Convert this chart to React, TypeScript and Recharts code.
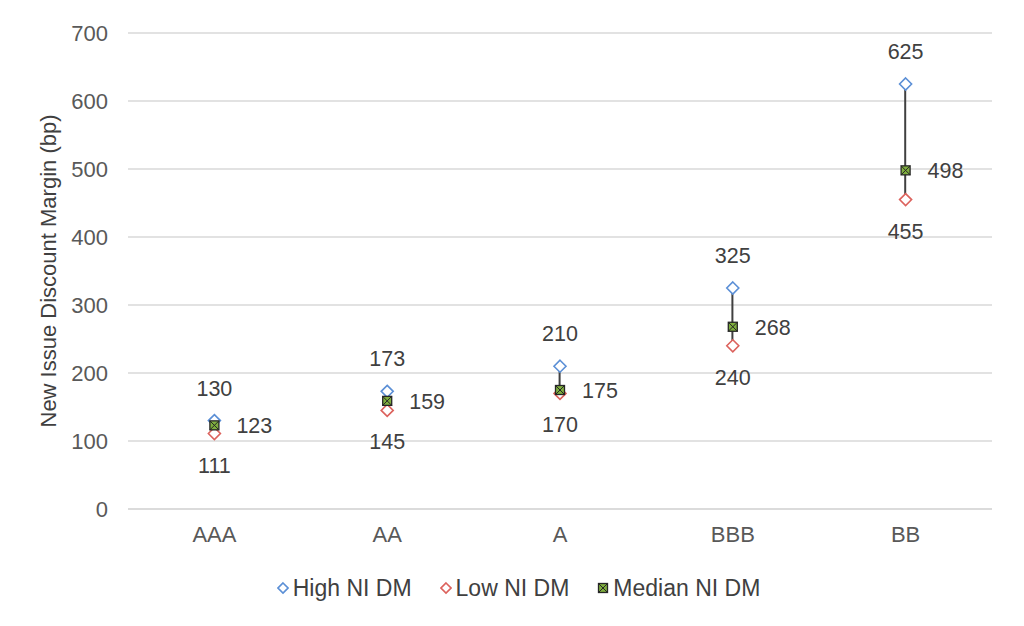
import { ComposedChart, Line, Bar, XAxis, YAxis, CartesianGrid, Legend } from 'recharts';

const ratings = ['AAA', 'AA', 'A', 'BBB', 'BB'];
const highDM = [130, 173, 210, 325, 625];
const lowDM = [111, 145, 170, 240, 455];
const medianDM = [123, 159, 175, 268, 498];
const yTicks = [0, 100, 200, 300, 400, 500, 600, 700];

const BLUE = '#5b8fd6';
const RED = '#dc625d';
const GREEN = '#7fae3e';
const TEXT = '#404040';

const datos = ratings.map((r, i) => ({
  rating: r,
  high: highDM[i],
  low: lowDM[i],
  median: medianDM[i],
  range: [lowDM[i], highDM[i]],
}));

const Diamond = ({ cx, cy, color, s = 6 }: any) => {
  if (cx == null || cy == null) return null;
  return (
    <path
      d={`M${cx},${cy - s} L${cx + s},${cy} L${cx},${cy + s} L${cx - s},${cy} Z`}
      fill="#fff"
      stroke={color}
      strokeWidth={1.6}
    />
  );
};

const MedianMark = ({ cx, cy }: any) => {
  if (cx == null || cy == null) return null;
  const s = 4.5;
  return (
    <g>
      <rect x={cx - s} y={cy - s} width={s * 2} height={s * 2} fill={GREEN} stroke="#262626" strokeWidth={1.3} />
      <path d={`M${cx - s},${cy - s} L${cx + s},${cy + s} M${cx + s},${cy - s} L${cx - s},${cy + s}`} stroke="#262626" strokeWidth={1} />
    </g>
  );
};

// linea vertical entre el alto y el bajo
const RangeLine = (props: any) => {
  const { x, y, width, height } = props;
  const cx = x + width / 2;
  return <line x1={cx} x2={cx} y1={y} y2={y + height} stroke="#404040" strokeWidth={2} />;
};

const LABEL_SIZE = 21.5;

const labelArriba = (props: any) => (
  <text x={props.x} y={props.y - 32} textAnchor="middle" dominantBaseline="central" fontSize={LABEL_SIZE} fill={TEXT}>
    {props.value}
  </text>
);

const labelAbajo = (props: any) => (
  <text x={props.x} y={props.y + 32} textAnchor="middle" dominantBaseline="central" fontSize={LABEL_SIZE} fill={TEXT}>
    {props.value}
  </text>
);

const labelDerecha = (props: any) => (
  <text x={props.x + 22} y={props.y + 1} textAnchor="start" dominantBaseline="central" fontSize={LABEL_SIZE} fill={TEXT}>
    {props.value}
  </text>
);

const LeyendaCustom = () => {
  const items = [
    { name: 'High NI DM', icon: <svg width={12} height={14}><Diamond cx={6} cy={7} s={5} color={BLUE} /></svg> },
    { name: 'Low NI DM', icon: <svg width={12} height={14}><Diamond cx={6} cy={7} s={5} color={RED} /></svg> },
    { name: 'Median NI DM', icon: <svg width={12} height={14}><MedianMark cx={6} cy={7} /></svg> },
  ];
  return (
    <div style={{ display: 'flex', justifyContent: 'center', gap: 28, height: 40, fontSize: 23, color: TEXT, paddingLeft: 37 }}>
      {items.map((it) => (
        <div key={it.name} style={{ display: 'flex', alignItems: 'center', gap: 4, height: 20 }}>
          {it.icon}
          <span>{it.name}</span>
        </div>
      ))}
    </div>
  );
};

const YLabel = (props: any) => {
  const vb = props.viewBox;
  const cy = vb.y + vb.height / 2;
  return (
    <text x={40} y={cy} transform={`rotate(-90, 40, ${cy})`} textAnchor="middle" dominantBaseline="central" fontSize={22} fill={TEXT}>
      New Issue Discount Margin (bp)
    </text>
  );
};

export default function App() {
  return (
    <div style={{ fontFamily: '"Liberation Sans", Arial, sans-serif' }}>
      <ComposedChart width={1008} height={610} data={datos} margin={{ top: 25, right: 24, left: 0, bottom: 0 }}>
        <CartesianGrid vertical={false} stroke="#d9d9d9" strokeWidth={1.5} />
        <XAxis
          dataKey="rating"
          height={69}
          tickLine={false}
          tickSize={6}
          tickMargin={11}
          axisLine={{ stroke: '#d9d9d9', strokeWidth: 1.5 }}
          tick={{ fontSize: 22, fill: '#595959' }}
        />
        <YAxis
          width={120}
          domain={[0, 700]}
          ticks={yTicks}
          axisLine={false}
          tickLine={false}
          tickSize={12}
          tickMargin={8}
          tick={{ fontSize: 22, fill: '#595959' }}
          label={<YLabel />}
        />
        <Legend verticalAlign="bottom" content={<LeyendaCustom />} />
        <Bar dataKey="range" barSize={10} shape={<RangeLine />} isAnimationActive={false} legendType="none" />
        <Line
          dataKey="high"
          name="High NI DM"
          stroke="none"
          dot={<Diamond color={BLUE} />}
          activeDot={false}
          label={labelArriba}
          isAnimationActive={false}
        />
        <Line
          dataKey="low"
          name="Low NI DM"
          stroke="none"
          dot={<Diamond color={RED} />}
          activeDot={false}
          label={labelAbajo}
          isAnimationActive={false}
        />
        <Line
          dataKey="median"
          name="Median NI DM"
          stroke="none"
          dot={<MedianMark />}
          activeDot={false}
          label={labelDerecha}
          isAnimationActive={false}
        />
      </ComposedChart>
    </div>
  );
}
